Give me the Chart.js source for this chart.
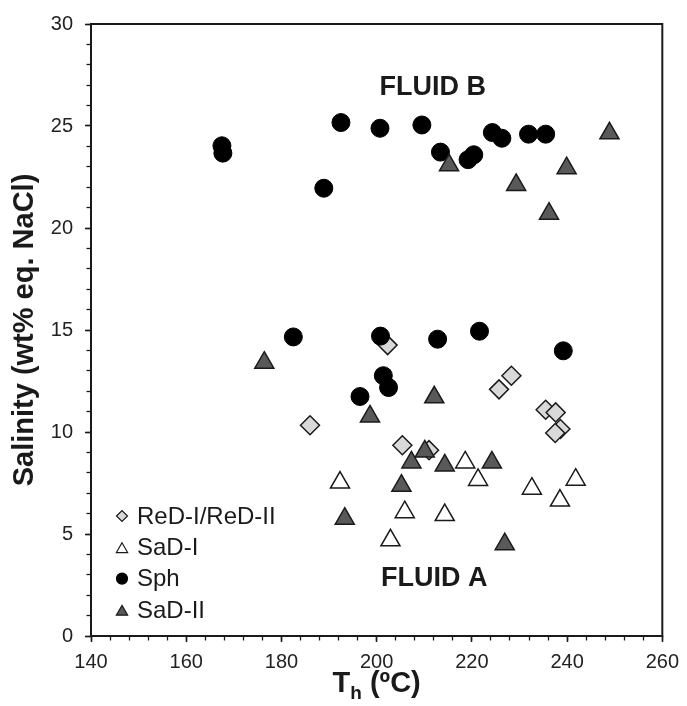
<!DOCTYPE html>
<html>
<head>
<meta charset="utf-8">
<script src="https://cdn.jsdelivr.net/npm/chart.js@4.4.1/dist/chart.umd.min.js"></script>
<style>
  html, body { margin: 0; padding: 0; background: #fff; }
</style>
</head>
<body>
<canvas id="chart" width="687" height="706"></canvas>
<script>
// values: Th (ºC) and salinity (wt% eq. NaCl)
var redX = [202.3, 186.0, 205.4, 228.3, 225.7, 235.5, 237.6, 238.6, 237.5, 211.0];
var redY = [14.26, 10.33, 9.35, 12.76, 12.09, 11.09, 10.96, 10.15, 9.95, 9.11];

var sad1X = [192.3, 218.6, 221.3, 241.8, 232.6, 238.5, 205.9, 214.3, 202.9];
var sad1Y = [7.52, 8.51, 7.65, 7.66, 7.22, 6.64, 6.07, 5.93, 4.69];

var sphX = [167.5, 167.7, 192.5, 200.7, 188.9, 209.5, 213.4, 219.2, 220.4, 224.3, 226.3,
            231.9, 235.5, 182.5, 200.8, 201.4, 202.5, 196.5, 212.8, 221.6, 239.2];
var sphY = [24.03, 23.67, 25.17, 24.89, 21.95, 25.05, 23.72, 23.35, 23.59, 24.68, 24.40,
            24.60, 24.60, 14.66, 14.70, 12.76, 12.18, 11.74, 14.55, 14.94, 13.98];

var sad2X = [215.2, 248.9, 239.9, 229.3, 236.2, 176.4, 198.6, 212.1, 210.1, 207.3, 214.3,
             224.2, 205.2, 193.3, 226.9];
var sad2Y = [23.08, 24.64, 22.93, 22.11, 20.70, 13.40, 10.76, 11.70, 9.05, 8.51, 8.36,
             8.51, 7.37, 5.75, 4.50];

var seriesNames = ['ReD-I/ReD-II', 'SaD-I', 'Sph', 'SaD-II'];
var xTicks = [140, 160, 180, 200, 220, 240, 260];
var yTicks = [0, 5, 10, 15, 20, 25, 30];
var xMinorStep = 4;
var yMinorStep = 1;

// text labels placed in data coordinates
var fluidLabels = [
    {text: 'FLUID B', x: 211.8, y: 26.9},
    {text: 'FLUID A', x: 212.1, y: 2.83}
];

var FONT = "'Liberation Sans', Arial, Helvetica, sans-serif";
var INK = '#1a1a1a';

function pts(xs, ys) {
    return xs.map(function(x, i) {
        return {x: x, y: ys[i]};
    });
}

var styles = [
    {pointStyle: 'rectRot', radius: 9.5, fill: '#d9d9d9', stroke: INK, bw: 1.5, legendR: 5.5},
    {pointStyle: 'triangle', radius: 11, fill: '#ffffff', stroke: INK, bw: 1.5, legendR: 6.5},
    {pointStyle: 'circle', radius: 9, fill: '#000000', stroke: '#000000', bw: 1, legendR: 5.5},
    {pointStyle: 'triangle', radius: 11, fill: '#595959', stroke: INK, bw: 1.5, legendR: 6.5}
];
var allX = [redX, sad1X, sphX, sad2X];
var allY = [redY, sad1Y, sphY, sad2Y];

var datasets = seriesNames.map(function(name, i) {
    var s = styles[i];
    return {
        label: name,
        data: pts(allX[i], allY[i]),
        showLine: false,
        pointStyle: s.pointStyle,
        pointRadius: s.radius,
        pointHoverRadius: s.radius,
        backgroundColor: s.fill,
        borderColor: s.stroke,
        pointBorderWidth: s.bw,
        borderWidth: s.bw,
        order: seriesNames.length - i   // later series are drawn on top
    };
});

var decor = {
    id: 'decor',
    afterDatasetsDraw: function(chart) {
        var ctx = chart.ctx;
        var a = chart.chartArea;
        var xs = chart.scales.x;
        var ys = chart.scales.y;
        ctx.save();

        // plot frame
        ctx.strokeStyle = INK;
        ctx.lineWidth = 2;
        ctx.strokeRect(a.left, a.top, a.right - a.left, a.bottom - a.top);

        // FLUID A / FLUID B
        ctx.fillStyle = INK;
        ctx.font = 'bold 27px ' + FONT;
        ctx.textAlign = 'center';
        ctx.textBaseline = 'middle';
        fluidLabels.forEach(function(l) {
            ctx.fillText(l.text, xs.getPixelForValue(l.x), ys.getPixelForValue(l.y));
        });

        // legend inside the plot, bottom left
        var lx = 122, ly = 516, step = 31.3;
        ctx.font = '24px ' + FONT;
        ctx.textAlign = 'left';
        seriesNames.forEach(function(name, i) {
            var s = styles[i];
            var y = ly + i * step;
            ctx.fillStyle = s.fill;
            ctx.strokeStyle = s.stroke;
            ctx.lineWidth = 1.2;
            Chart.helpers.drawPoint(ctx, {
                pointStyle: s.pointStyle,
                radius: s.legendR,
                rotation: 0,
                borderWidth: 1.2
            }, lx, s.pointStyle === 'triangle' ? y + 2 : y);
            ctx.fillStyle = INK;
            ctx.fillText(name, 137, y + 1);
        });

        // x axis title with subscript
        var cx = (a.left + a.right) / 2;
        var base = 692;
        ctx.font = 'bold 29px ' + FONT;
        var wT = ctx.measureText('T').width;
        var wRest = ctx.measureText(' (ºC)').width;
        ctx.font = 'bold 19px ' + FONT;
        var wH = ctx.measureText('h').width;
        var x0 = cx - (wT + wH + wRest) / 2;
        ctx.textBaseline = 'alphabetic';
        ctx.font = 'bold 29px ' + FONT;
        ctx.fillText('T', x0, base);
        ctx.font = 'bold 19px ' + FONT;
        ctx.fillText('h', x0 + wT, base + 7);
        ctx.font = 'bold 29px ' + FONT;
        ctx.fillText(' (ºC)', x0 + wT + wH, base);

        ctx.restore();
    }
};

var tickFont = {family: FONT, size: 20};

new Chart(document.getElementById('chart'), {
    type: 'scatter',
    data: {datasets: datasets},
    options: {
        responsive: false,
        animation: false,
        devicePixelRatio: 1,
        events: [],
        layout: {padding: {top: 21, right: 21, left: 0, bottom: 0}},
        plugins: {
            legend: {display: false},
            tooltip: {enabled: false}
        },
        scales: {
            x: {
                type: 'linear',
                position: 'bottom',
                weight: 1,
                min: xTicks[0],
                max: xTicks[xTicks.length - 1],
                ticks: {
                    stepSize: xTicks[1] - xTicks[0],
                    font: tickFont,
                    color: '#222',
                    padding: 8,
                    maxRotation: 0,
                    autoSkip: false
                },
                grid: {drawOnChartArea: false, tickLength: 6, tickColor: INK, tickWidth: 1.5},
                border: {display: false},
                afterFit: function(s) { s.height = 70; }
            },
            xMinor: {
                type: 'linear',
                position: 'bottom',
                weight: 0,
                min: xTicks[0],
                max: xTicks[xTicks.length - 1],
                ticks: {stepSize: xMinorStep, display: false, autoSkip: false},
                grid: {drawOnChartArea: false, tickLength: 4.5, tickColor: INK, tickWidth: 1.3},
                border: {display: false},
                afterFit: function(s) { s.height = 0; }
            },
            y: {
                type: 'linear',
                position: 'left',
                weight: 1,
                min: yTicks[0],
                max: yTicks[yTicks.length - 1],
                ticks: {
                    stepSize: yTicks[1] - yTicks[0],
                    font: tickFont,
                    color: '#222',
                    padding: 12,
                    autoSkip: false
                },
                grid: {drawOnChartArea: false, tickLength: 6, tickColor: INK, tickWidth: 1.5},
                border: {display: false},
                title: {
                    display: true,
                    text: 'Salinity (wt% eq. NaCl)',
                    color: INK,
                    font: {family: FONT, size: 29, weight: 'bold'},
                    padding: {top: 8, bottom: 0}
                },
                afterFit: function(s) { s.width = 91; }
            },
            yMinor: {
                type: 'linear',
                position: 'left',
                weight: 0,
                min: yTicks[0],
                max: yTicks[yTicks.length - 1],
                ticks: {stepSize: yMinorStep, display: false, autoSkip: false},
                grid: {drawOnChartArea: false, tickLength: 4.5, tickColor: INK, tickWidth: 1.3},
                border: {display: false},
                afterFit: function(s) { s.width = 0; }
            }
        }
    },
    plugins: [decor]
});
</script>
</body>
</html>
